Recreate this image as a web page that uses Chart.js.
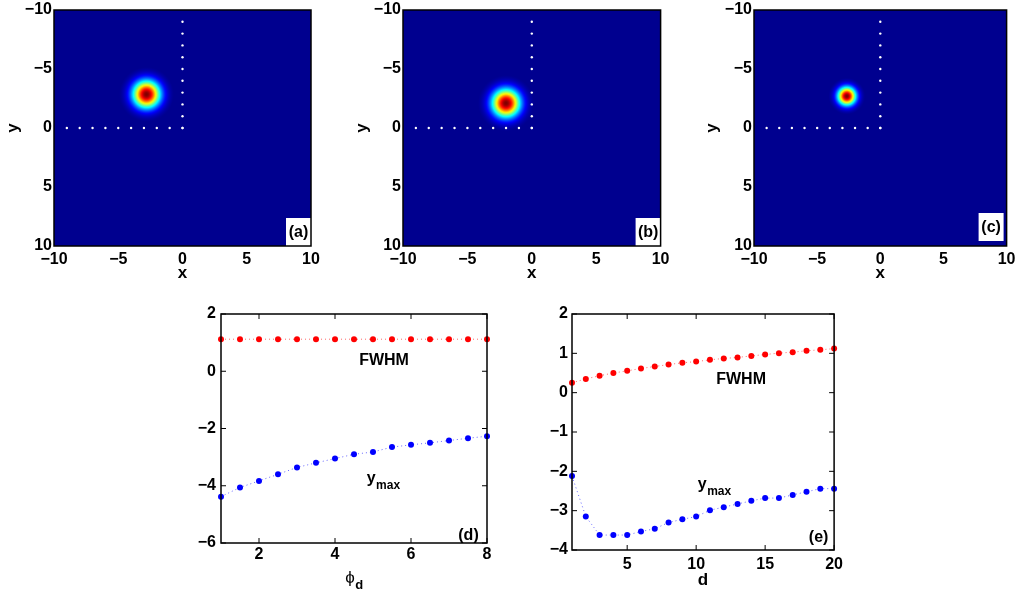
<!DOCTYPE html>
<html>
<head>
<meta charset="utf-8">
<script src="https://cdn.jsdelivr.net/npm/chart.js@4"></script>
<style>
  body { margin: 0; background: #fff; width: 1021px; height: 597px; position: relative; overflow: hidden; }
  canvas { position: absolute; }
</style>
</head>
<body>
<canvas id="chartA"></canvas>
<canvas id="chartB"></canvas>
<canvas id="chartC"></canvas>
<canvas id="chartD"></canvas>
<canvas id="chartE"></canvas>
<script>
// Panels (a)-(c): intensity maps
const mapTicks = [-10, -5, 0, 5, 10];
const blobX = [-2.8, -2.0, -2.65];
const blobY = [-2.85, -2.1, -2.7];
const blobSpread = [2.2, 2.25, 1.5];   // x units where the peak has faded into the background
const guideSteps = [-9, -8, -7, -6, -5, -4, -3, -2, -1, 0];
const mapLabels = ['(a)', '(b)', '(c)'];

// Panel (d): FWHM and y_max against phi_d
const phiD = [1, 1.5, 2, 2.5, 3, 3.5, 4, 4.5, 5, 5.5, 6, 6.5, 7, 7.5, 8];
const fwhmD = [1.12, 1.12, 1.12, 1.12, 1.12, 1.12, 1.12, 1.12, 1.12, 1.12, 1.12, 1.12, 1.12, 1.12, 1.12];
const ymaxD = [-4.38, -4.06, -3.83, -3.60, -3.36, -3.20, -3.05, -2.90, -2.82, -2.65, -2.57, -2.50, -2.42, -2.34, -2.27];
const xTicksD = [2, 4, 6, 8];
const yTicksD = [-6, -4, -2, 0, 2];

// Panel (e): FWHM and y_max against d
const dE = [1, 2, 3, 4, 5, 6, 7, 8, 9, 10, 11, 12, 13, 14, 15, 16, 17, 18, 19, 20];
const fwhmE = [0.25, 0.35, 0.43, 0.50, 0.555, 0.615, 0.665, 0.715, 0.76, 0.79, 0.835, 0.87, 0.895, 0.935, 0.97, 1.005, 1.03, 1.065, 1.09, 1.12];
const ymaxE = [-2.12, -3.15, -3.62, -3.62, -3.62, -3.53, -3.46, -3.30, -3.22, -3.15, -2.99, -2.91, -2.83, -2.75, -2.68, -2.68, -2.60, -2.52, -2.44, -2.44];
const xTicksE = [5, 10, 15, 20];
const yTicksE = [-4, -3, -2, -1, 0, 1, 2];

// canvas boxes and plot areas, in page pixels
const geoA = { L: 0, T: 0, W: 335, H: 292, pl: 54, pt: 9, pr: 311, pb: 246 };
const geoB = { L: 340, T: 0, W: 335, H: 292, pl: 403, pt: 9, pr: 661, pb: 246 };
const geoC = { L: 690, T: 0, W: 331, H: 292, pl: 754, pt: 9, pr: 1011, pb: 246 };
const geoD = { L: 180, T: 300, W: 320, H: 297, pl: 221, pt: 314, pr: 487, pb: 543 };
const geoE = { L: 530, T: 300, W: 320, H: 297, pl: 572, pt: 314, pr: 836, pb: 550 };

const FONT = "'Liberation Sans', Arial, Helvetica, sans-serif";
const tickFont = { family: FONT, size: 16, weight: 'bold', lineHeight: 1 };
const titleFont = { family: FONT, size: 17, weight: 'bold', lineHeight: 1 };
const NAVY = 'rgb(0,0,143)';

const fmt = v => (v < 0 ? '\u2212' + Math.abs(v) : String(v));

// MATLAB-like jet colormap
function jet(v) {
    const c = t => Math.max(0, Math.min(1, t));
    const r = c(1.5 - Math.abs(4 * v - 3));
    const g = c(1.5 - Math.abs(4 * v - 2));
    let b = c(1.5 - Math.abs(4 * v - 1));
    if (v < 0.125) b = Math.max(b, 0.5625);
    return `rgb(${Math.round(r * 255)},${Math.round(g * 255)},${Math.round(b * 255)})`;
}

function place(id, geo) {
    const cv = document.getElementById(id);
    cv.width = geo.W;
    cv.height = geo.H;
    cv.style.left = geo.L + 'px';
    cv.style.top = geo.T + 'px';
    return cv;
}

function scaleX(geo, min, max, ticks, title, tickPad, titlePad) {
    return {
        type: 'linear', min, max,
        afterBuildTicks: s => { s.ticks = ticks.map(v => ({ value: v })); },
        afterFit: s => { s.height = geo.T + geo.H - geo.pb; },
        grid: { display: false, drawTicks: false },
        border: { display: false },
        ticks: { font: tickFont, color: '#000', padding: tickPad, callback: fmt, maxRotation: 0, autoSkip: false },
        title: title
            ? { display: true, text: title, font: titleFont, color: '#000', padding: { top: 0, bottom: titlePad } }
            : { display: false }
    };
}

function scaleY(geo, min, max, ticks, title, tickPad, titlePad, reverse) {
    return {
        type: 'linear', min, max, reverse: !!reverse,
        afterBuildTicks: s => { s.ticks = ticks.map(v => ({ value: v })); },
        afterFit: s => { s.width = geo.pl - geo.L; },
        grid: { display: false, drawTicks: false },
        border: { display: false },
        ticks: { font: tickFont, color: '#000', padding: tickPad, callback: fmt, autoSkip: false },
        title: title
            ? { display: true, text: title, font: titleFont, color: '#000', padding: { top: titlePad, bottom: 0 } }
            : { display: false }
    };
}

function baseOptions(geo, scales, extra) {
    return Object.assign({
        responsive: false,
        animation: false,
        events: [],
        layout: { padding: { top: geo.pt - geo.T, right: geo.L + geo.W - geo.pr, left: 0, bottom: 0 } },
        scales,
        plugins: { legend: { display: false }, tooltip: { enabled: false } }
    }, extra || {});
}

// frame round the plot area, optionally with inward ticks on all four sides
const framePlugin = {
    id: 'frame',
    afterDraw(chart, args, opts) {
        const { ctx, chartArea: a, scales } = chart;
        ctx.save();
        ctx.strokeStyle = '#000';
        ctx.lineWidth = 1.5;
        if (opts.ticks) {
            const len = 5;
            ctx.beginPath();
            scales.x.ticks.forEach(t => {
                const px = scales.x.getPixelForValue(t.value);
                ctx.moveTo(px, a.bottom); ctx.lineTo(px, a.bottom - len);
                ctx.moveTo(px, a.top); ctx.lineTo(px, a.top + len);
            });
            scales.y.ticks.forEach(t => {
                const py = scales.y.getPixelForValue(t.value);
                ctx.moveTo(a.left, py); ctx.lineTo(a.left + len, py);
                ctx.moveTo(a.right, py); ctx.lineTo(a.right - len, py);
            });
            ctx.lineWidth = 1;
            ctx.stroke();
            ctx.lineWidth = 1.5;
        }
        ctx.strokeRect(a.left, a.top, a.right - a.left, a.bottom - a.top);
        ctx.restore();
    }
};

// navy background of the intensity maps
const mapBackground = {
    id: 'mapBackground',
    beforeDatasetsDraw(chart) {
        const { ctx, chartArea: a } = chart;
        ctx.save();
        ctx.fillStyle = NAVY;
        ctx.fillRect(a.left, a.top, a.right - a.left, a.bottom - a.top);
        ctx.restore();
    }
};

// white label box in the corner of the maps
const mapLabel = {
    id: 'mapLabel',
    afterDatasetsDraw(chart, args, opts) {
        const { ctx, chartArea: a } = chart;
        const w = 25, h = 28;
        const x = a.right - opts.dx - w, y = a.bottom - opts.dy - h;
        ctx.save();
        ctx.fillStyle = '#fff';
        ctx.fillRect(x, y, w, h);
        ctx.fillStyle = '#000';
        ctx.font = `bold 16px ${FONT}`;
        ctx.textAlign = 'center';
        ctx.textBaseline = 'middle';
        ctx.fillText(opts.text, x + w / 2, y + h / 2 + 1);
        ctx.restore();
    }
};

// text notes placed in data coordinates, with optional subscript
const notesPlugin = {
    id: 'notes',
    afterDatasetsDraw(chart, args, opts) {
        const { ctx, chartArea: a, scales } = chart;
        ctx.save();
        ctx.fillStyle = '#000';
        (opts.items || []).forEach(n => {
            const px = scales.x.getPixelForValue(n.x);
            const py = scales.y.getPixelForValue(n.y);
            ctx.font = `bold 16px ${FONT}`;
            ctx.textAlign = 'center';
            if (n.sub) {
                ctx.textBaseline = 'alphabetic';
                ctx.fillText(n.text, px, py);
                const w = ctx.measureText(n.text).width;
                ctx.font = `bold 12px ${FONT}`;
                ctx.textAlign = 'left';
                ctx.fillText(n.sub, px + w / 2 + 0.5, py + 6);
            } else {
                ctx.textBaseline = 'middle';
                ctx.fillText(n.text, px, py);
            }
        });
        if (opts.panel) {
            ctx.font = `bold 16px ${FONT}`;
            ctx.textAlign = 'center';
            ctx.textBaseline = 'middle';
            ctx.fillText(opts.panel.text, a.right - opts.panel.dx, a.bottom - opts.panel.dy);
        }
        if (opts.xTitle) {
            const cx = (a.left + a.right) / 2;
            ctx.font = `17px ${FONT}`;
            const w1 = ctx.measureText(opts.xTitle.text).width;
            ctx.font = `bold 13px ${FONT}`;
            const w2 = ctx.measureText(opts.xTitle.sub).width;
            const x0 = cx - (w1 + w2) / 2;
            ctx.textAlign = 'left';
            ctx.textBaseline = 'alphabetic';
            ctx.font = `17px ${FONT}`;
            ctx.fillText(opts.xTitle.text, x0, opts.xTitle.y);
            ctx.font = `bold 13px ${FONT}`;
            ctx.fillText(opts.xTitle.sub, x0 + w1 + 0.5, opts.xTitle.y + 6);
        }
        ctx.restore();
    }
};

function blobRadius(chart, i) {
    const xs = chart.scales.x;
    if (!xs) return 0;
    return Math.abs(xs.getPixelForValue(blobSpread[i]) - xs.getPixelForValue(0));
}

function blobFill(chart, i) {
    if (!chart.chartArea || !chart.scales.x) return NAVY;
    const px = chart.scales.x.getPixelForValue(blobX[i]);
    const py = chart.scales.y.getPixelForValue(blobY[i]);
    const R = blobRadius(chart, i);
    const g = chart.ctx.createRadialGradient(px, py, 0, px, py, R);
    const n = 32;
    for (let k = 0; k <= n; k++) {
        const t = k / n;
        g.addColorStop(t, jet(Math.exp(-4.5 * t * t)));
    }
    return g;
}

function mapChart(id, geo, i, yTitlePad, labelOffset) {
    const cv = place(id, geo);
    const guides = guideSteps.map(s => ({ x: s, y: 0 })).concat(guideSteps.map(s => ({ x: 0, y: s })));
    return new Chart(cv, {
        type: 'scatter',
        data: {
            datasets: [
                { data: guides, pointRadius: 1.2, backgroundColor: '#fff', borderWidth: 0 },
                {
                    data: [{ x: blobX[i], y: blobY[i] }],
                    pointRadius: ctx => blobRadius(ctx.chart, i),
                    backgroundColor: ctx => blobFill(ctx.chart, i),
                    borderWidth: 0,
                    clip: true
                }
            ]
        },
        options: baseOptions(geo, {
            x: scaleX(geo, -10, 10, mapTicks, 'x', 5.5, 10.5),
            y: scaleY(geo, -10, 10, mapTicks, 'y', 2, yTitlePad, true)
        }, {
            plugins: {
                legend: { display: false }, tooltip: { enabled: false },
                frame: { ticks: false },
                mapLabel: { text: mapLabels[i], dx: labelOffset[0], dy: labelOffset[1] }
            }
        }),
        plugins: [mapBackground, mapLabel, framePlugin]
    });
}

mapChart('chartA', geoA, 0, 4.5, [0, 0]);
mapChart('chartB', geoB, 1, 14, [0, 0]);
mapChart('chartC', geoC, 2, 14, [3, 5]);

function seriesSet(xs, ys, color, line) {
    return {
        data: xs.map((x, k) => ({ x, y: ys[k] })),
        showLine: true,
        borderColor: line,
        borderWidth: 1,
        borderDash: [1, 3],
        pointRadius: 3,
        pointBackgroundColor: color,
        pointBorderWidth: 0,
        clip: false
    };
}

const cvD = place('chartD', geoD);
new Chart(cvD, {
    type: 'scatter',
    data: {
        datasets: [
            seriesSet(phiD, fwhmD, 'rgb(255,0,0)', 'rgba(255,0,0,0.6)'),
            seriesSet(phiD, ymaxD, 'rgb(0,0,255)', 'rgba(0,0,255,0.6)')
        ]
    },
    options: baseOptions(geoD, {
        x: scaleX(geoD, 1, 8, xTicksD, null, 4, 0),
        y: scaleY(geoD, -6, 2, yTicksD, null, 5, 0)
    }, {
        plugins: {
            legend: { display: false }, tooltip: { enabled: false },
            frame: { ticks: true },
            notes: {
                items: [
                    { text: 'FWHM', x: 5.29, y: 0.36 },
                    { text: 'y', sub: 'max', x: 4.95, y: -3.91 }
                ],
                panel: { text: '(d)', dx: 18.5, dy: 7 },
                xTitle: { text: '\u03d5', sub: 'd', y: 583 - geoD.T }
            }
        }
    }),
    plugins: [notesPlugin, framePlugin]
});

const cvE = place('chartE', geoE);
new Chart(cvE, {
    type: 'scatter',
    data: {
        datasets: [
            seriesSet(dE, fwhmE, 'rgb(255,0,0)', 'rgba(255,0,0,0.6)'),
            seriesSet(dE, ymaxE, 'rgb(0,0,255)', 'rgba(0,0,255,0.6)')
        ]
    },
    options: baseOptions(geoE, {
        x: scaleX(geoE, 1, 20, xTicksE, 'd', 7, 8),
        y: scaleY(geoE, -4, 2, yTicksE, null, 4, 0)
    }, {
        plugins: {
            legend: { display: false }, tooltip: { enabled: false },
            frame: { ticks: true },
            notes: {
                items: [
                    { text: 'FWHM', x: 13.26, y: 0.34 },
                    { text: 'y', sub: 'max', x: 10.44, y: -2.45 }
                ],
                panel: { text: '(e)', dx: 15.5, dy: 12.5 }
            }
        }
    }),
    plugins: [notesPlugin, framePlugin]
});
</script>
</body>
</html>
